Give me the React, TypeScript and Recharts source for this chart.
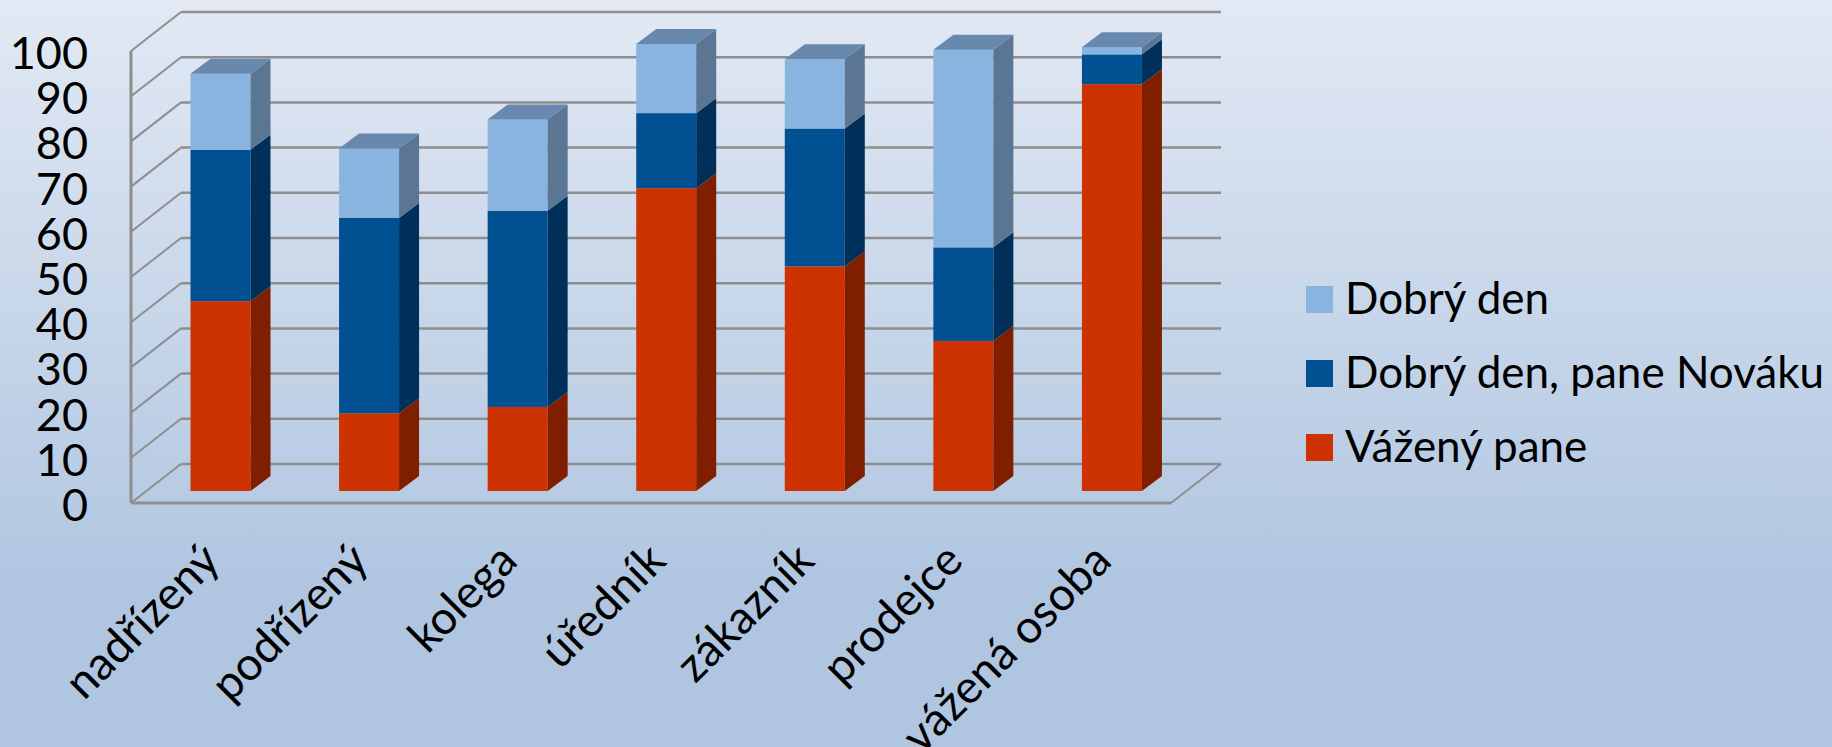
import React from 'react'
import { Bar, BarChart, CartesianGrid, Legend, XAxis, YAxis } from 'recharts'

const categories = ['nadřízený', 'podřízený', 'kolega', 'úředník', 'zákazník', 'prodejce', 'vážená osoba']
const vazenyPane = [42, 17.2, 18.6, 67, 49.7, 33.2, 90]
const dobryDenPane = [33.5, 43.2, 43.4, 16.6, 30.5, 20.7, 6.6]
const dobryDen = [16.8, 15.4, 20.2, 15.3, 15.3, 43.7, 1.6]
const yTicks = [0, 10, 20, 30, 40, 50, 60, 70, 80, 90, 100]

const chartData = categories.map((name, i) => ({
    name,
    vazenyPane: vazenyPane[i],
    dobryDenPane: dobryDenPane[i],
    dobryDen: dobryDen[i],
}))

const FONT = 'Lato'
const GRID = '#8e8e8e'
// depth of the fake 3D box
const WALL_DX = 50
const WALL_DY = 39
const BAR_SHIFT_X = 15.5
const BAR_SHIFT_Y = 12
const BAR_DX = 20
const BAR_DY = 15

const box = (front: string, side: string, top?: string) => (props: any) => {
    const { x, y, width, height } = props
    const l = x + BAR_SHIFT_X
    const r = l + width
    const t = y - BAR_SHIFT_Y
    const b = t + height
    return (
        <g>
            <rect x={l} y={t} width={width} height={height} fill={front} />
            <polygon points={`${r},${t} ${r + BAR_DX},${t - BAR_DY} ${r + BAR_DX},${b - BAR_DY} ${r},${b}`} fill={side} />
            {top && <polygon points={`${l},${t} ${l + BAR_DX},${t - BAR_DY} ${r + BAR_DX},${t - BAR_DY} ${r},${t}`} fill={top} />}
        </g>
    )
}

const wallLine = (props: any) => {
    const { x1, x2, y1, index } = props
    const backY = y1 - WALL_DY
    const isFloor = index === 0 || y1 > 500
    return (
        <g key={`wall-${y1}`} fill="none" stroke={GRID}>
            <line x1={x1} y1={y1} x2={x1 + WALL_DX} y2={backY} strokeWidth={2} />
            <line x1={x1 + WALL_DX} y1={backY} x2={x2 + WALL_DX} y2={backY} strokeWidth={2.5} />
            {isFloor && <line x1={x2} y1={y1} x2={x2 + WALL_DX} y2={backY} strokeWidth={2} />}
        </g>
    )
}

const CategoryTick = (props: any) => {
    const { x, y, payload } = props
    const ax = x + 17
    const ay = y + 52
    return (
        <text x={ax} y={ay} textAnchor="end" fontFamily={FONT} fontSize={46} fill="#000" transform={`rotate(-45 ${ax} ${ay})`}>
            {payload.value}
        </text>
    )
}

const LegendBox = (props: any) => {
    const items = props.payload || []
    return (
        <div style={{ fontFamily: FONT, fontSize: 44, color: '#000' }}>
            {items.map((item: any) => (
                <div key={item.value} style={{ position: 'relative', height: 74, whiteSpace: 'nowrap' }}>
                    <span style={{ position: 'absolute', left: 0, top: 0, width: 27, height: 27, background: item.color }} />
                    <span style={{ position: 'absolute', left: 39, top: -13, lineHeight: '48px' }}>{item.value}</span>
                </div>
            ))}
        </div>
    )
}

const App: React.FC = () => {
    return (
        <div style={{
            position: 'absolute', left: 0, top: 0, width: 1832, height: 747,
            background: 'linear-gradient(180deg, #E2E9F4 0%, #AFC5E0 80%, #AFC5E0 100%)',
        }}>
            <BarChart width={1832} height={747} data={chartData} margin={{ top: 51, right: 661, bottom: 0, left: 0 }} barSize={60}>
                <CartesianGrid vertical={false} horizontal={wallLine} />
                <XAxis dataKey="name" height={244} interval={0} tickLine={false} tick={CategoryTick}
                    axisLine={{ stroke: GRID, strokeWidth: 3 }} />
                <YAxis width={131} domain={[0, 100]} ticks={yTicks} interval={0} tickLine={false} tickMargin={37}
                    axisLine={{ stroke: GRID, strokeWidth: 3 }} dy={2}
                    tick={{ fontFamily: FONT, fontSize: 45, fill: '#000' }} />
                <Legend layout="vertical" align="center" verticalAlign="middle" content={LegendBox}
                    wrapperStyle={{ left: 1306, top: 286, width: 520 }} />
                <Bar dataKey="vazenyPane" name="Vážený pane" stackId="a" fill="#CC3300" isAnimationActive={false}
                    shape={box('#CC3300', '#7F1F00')} />
                <Bar dataKey="dobryDenPane" name="Dobrý den, pane Nováku" stackId="a" fill="#005092" isAnimationActive={false}
                    shape={box('#005092', '#00305A')} />
                <Bar dataKey="dobryDen" name="Dobrý den" stackId="a" fill="#8AB4E0" isAnimationActive={false}
                    shape={box('#8AB4E0', '#5A7693', '#6888AD')} />
            </BarChart>
        </div>
    )
}

export default App
